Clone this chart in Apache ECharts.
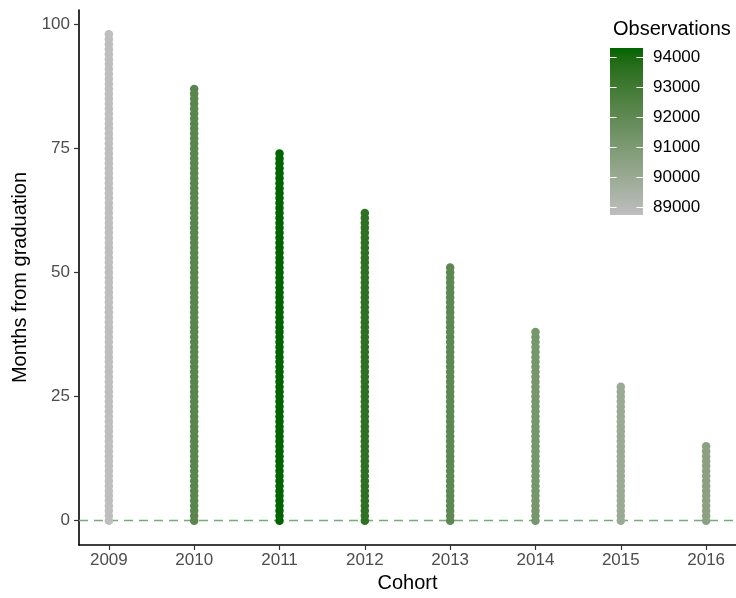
<!DOCTYPE html>
<html>
<head>
<meta charset="utf-8">
<script src="https://cdn.jsdelivr.net/npm/echarts@6/dist/echarts.min.js"></script>
<style>
  html, body { margin: 0; padding: 0; background: #fff; }
  #chart { width: 736px; height: 598px; }
</style>
</head>
<body>
<div id="chart"></div>
<script>
// Graduation cohorts and how many months each one has been followed
const cohorts = [2009, 2010, 2011, 2012, 2013, 2014, 2015, 2016];
const maxMonths = [98, 87, 74, 62, 51, 38, 27, 15];
// Number of observations in each cohort
const observations = [88730, 92180, 94300, 93500, 92070, 91240, 89960, 90510];
// Tick values
const yTicks = [0, 25, 50, 75, 100];
const legendTicks = [89000, 90000, 91000, 92000, 93000, 94000];

const obsMin = Math.min(...observations);
const obsMax = Math.max(...observations);

// --- colour scale: grey -> dark green, interpolated in CIE Lab ---
function srgbToLin(c) { c /= 255; return c <= 0.04045 ? c / 12.92 : Math.pow((c + 0.055) / 1.055, 2.4); }
function linToSrgb(c) { c = c <= 0.0031308 ? 12.92 * c : 1.055 * Math.pow(c, 1 / 2.4) - 0.055; return Math.max(0, Math.min(255, Math.round(c * 255))); }
function hexToLab(hex) {
  const r = srgbToLin(parseInt(hex.slice(1, 3), 16));
  const g = srgbToLin(parseInt(hex.slice(3, 5), 16));
  const b = srgbToLin(parseInt(hex.slice(5, 7), 16));
  const X = (0.4124 * r + 0.3576 * g + 0.1805 * b) / 0.95047;
  const Y = (0.2126 * r + 0.7152 * g + 0.0722 * b);
  const Z = (0.0193 * r + 0.1192 * g + 0.9505 * b) / 1.08883;
  const f = t => t > 0.008856 ? Math.cbrt(t) : 7.787 * t + 16 / 116;
  const fx = f(X), fy = f(Y), fz = f(Z);
  return [116 * fy - 16, 500 * (fx - fy), 200 * (fy - fz)];
}
function labToHex(L, a, b) {
  const fy = (L + 16) / 116, fx = fy + a / 500, fz = fy - b / 200;
  const inv = t => t * t * t > 0.008856 ? t * t * t : (t - 16 / 116) / 7.787;
  const X = inv(fx) * 0.95047, Y = inv(fy), Z = inv(fz) * 1.08883;
  const r = 3.2406 * X - 1.5372 * Y - 0.4986 * Z;
  const g = -0.9689 * X + 1.8758 * Y + 0.0415 * Z;
  const bl = 0.0557 * X - 0.2040 * Y + 1.0570 * Z;
  const h = v => linToSrgb(v).toString(16).padStart(2, '0');
  return '#' + h(r) + h(g) + h(bl);
}
const labLow = hexToLab('#BEBEBE');
const labHigh = hexToLab('#006400');
function colorAt(t) {
  return labToHex(
    labLow[0] + (labHigh[0] - labLow[0]) * t,
    labLow[1] + (labHigh[1] - labLow[1]) * t,
    labLow[2] + (labHigh[2] - labLow[2]) * t
  );
}
const stops = [];
for (let i = 0; i <= 20; i++) stops.push(colorAt(i / 20));

// One point per cohort and month since graduation
const points = [];
cohorts.forEach((c, i) => {
  for (let m = 0; m <= maxMonths[i]; m++) points.push([c, m, observations[i]]);
});

const fontFamily = 'Liberation Sans, Arial, sans-serif';
const tickColor = '#4d4d4d';
const chart = echarts.init(document.getElementById('chart'));

chart.setOption({
  animation: false,
  backgroundColor: '#ffffff',
  textStyle: { fontFamily: fontFamily },
  grid: [
    { left: 79, right: 0, top: 10, bottom: 53, outerBoundsMode: 'none' },
    { left: 610, top: 48, width: 33, height: 167, outerBoundsMode: 'none' }
  ],
  xAxis: [
    {
      gridIndex: 0, type: 'value', min: 2008.65, max: 2016.35,
      name: 'Cohort', nameLocation: 'middle', nameGap: 27,
      nameTextStyle: { fontSize: 20, color: '#000' },
      axisLine: { onZero: false, lineStyle: { color: '#000', width: 1.6 } },
      axisTick: { customValues: cohorts, length: 5, lineStyle: { color: '#333', width: 1.2 } },
      axisLabel: { customValues: cohorts, formatter: v => String(v), fontSize: 17, color: tickColor, margin: 7 },
      splitLine: { show: false }
    },
    { gridIndex: 1, type: 'value', min: 0, max: 1, show: false }
  ],
  yAxis: [
    {
      gridIndex: 0, type: 'value', min: -4.9, max: 102.9,
      name: 'Months from graduation', nameLocation: 'middle', nameGap: 47,
      nameTextStyle: { fontSize: 20, color: '#000' },
      axisLine: { show: true, onZero: false, lineStyle: { color: '#000', width: 1.6 } },
      axisTick: { show: true, customValues: yTicks, length: 5, lineStyle: { color: '#333', width: 1.2 } },
      axisLabel: { customValues: yTicks, fontSize: 17, color: tickColor, margin: 9 },
      splitLine: { show: false }
    },
    {
      gridIndex: 1, type: 'value', min: obsMin, max: obsMax, position: 'right',
      axisLine: { show: false }, axisTick: { show: false }, splitLine: { show: false },
      axisLabel: { customValues: legendTicks, formatter: v => String(v), fontSize: 17, color: '#000', margin: 10 }
    }
  ],
  visualMap: {
    type: 'continuous', show: false, seriesIndex: 0, dimension: 2,
    min: obsMin, max: obsMax, inRange: { color: stops }
  },
  graphic: [
    { type: 'text', left: 613, top: 19, style: { text: 'Observations', fontSize: 20, fill: '#000', fontFamily: fontFamily } }
  ],
  series: [
    {
      type: 'scatter', xAxisIndex: 0, yAxisIndex: 0,
      symbolSize: 8.5, data: points, z: 3,
      itemStyle: { opacity: 1 },
      markLine: {
        silent: true, symbol: 'none', label: { show: false },
        lineStyle: { color: '#76ad76', type: [9, 6], width: 1.4 },
        data: [{ yAxis: 0 }], z: 2
      }
    },
    {
      // Colour bar of the observation scale
      type: 'custom', xAxisIndex: 1, yAxisIndex: 1, silent: true,
      data: [[0, obsMin]],
      renderItem: function (params, api) {
        const tl = api.coord([0, obsMax]);
        const br = api.coord([1, obsMin]);
        const w = br[0] - tl[0], h = br[1] - tl[1];
        const colorStops = stops.map((c, i) => ({ offset: 1 - i / (stops.length - 1), color: c })).reverse();
        const children = [{
          type: 'rect', shape: { x: tl[0], y: tl[1], width: w, height: h },
          style: { fill: new echarts.graphic.LinearGradient(0, 0, 0, 1, colorStops) }
        }];
        legendTicks.forEach(v => {
          const p = api.coord([0, v]);
          const y = Math.round(p[1]) + 0.5;
          children.push({ type: 'line', shape: { x1: tl[0], y1: y, x2: tl[0] + w * 0.2, y2: y }, style: { stroke: '#fff', lineWidth: 1 } });
          children.push({ type: 'line', shape: { x1: br[0] - w * 0.2, y1: y, x2: br[0], y2: y }, style: { stroke: '#fff', lineWidth: 1 } });
        });
        return { type: 'group', children: children };
      }
    }
  ]
});
</script>
</body>
</html>
